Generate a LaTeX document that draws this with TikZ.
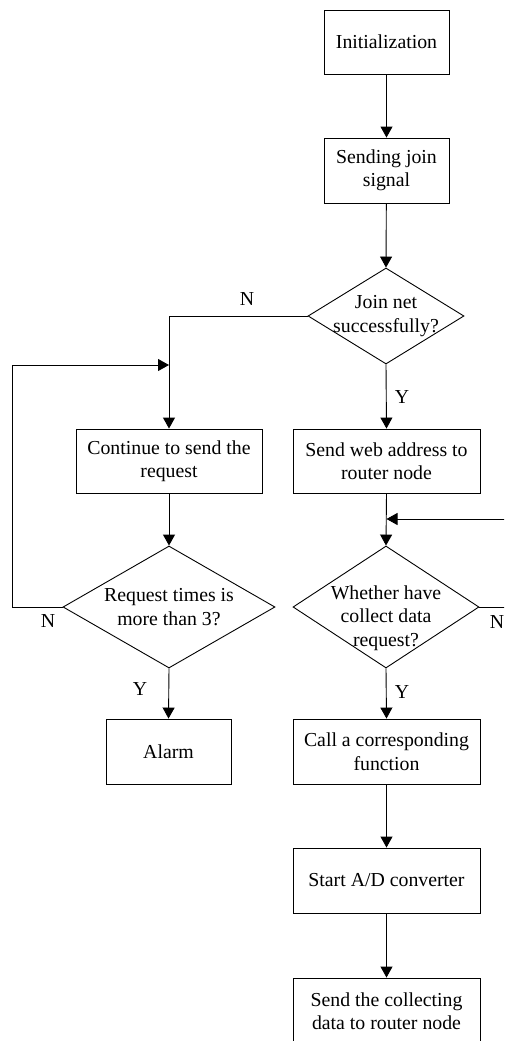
\documentclass[tikz,border=0pt]{standalone}
\usepackage{fontspec}
\setmainfont{Liberation Serif}
\usetikzlibrary{shapes.geometric,arrows.meta}

\tikzset{
  every node/.style={font=\fontsize{19.8}{23.5}\selectfont},
  procbox/.style={draw, line width=0.9pt, rectangle, align=center, inner sep=0pt},
  decision/.style={draw, line width=0.9pt, diamond, inner sep=0pt},
  dectext/.style={align=center, inner sep=0pt},
  flow/.style={line width=0.9pt, -{Triangle[length=11pt,width=12pt]}},
  plain/.style={line width=0.9pt},
  branch/.style={inner sep=0pt}
}

\begin{document}
\begin{tikzpicture}[x=1pt,y=-1pt]
  \useasboundingbox (0,0) rectangle (504,1041);
  \clip (0,0) rectangle (504,1041);

  % main column
  \node[procbox, minimum width=125pt, minimum height=64pt] (init) at (386.5,42) {Initialization};
  \node[procbox, minimum width=125pt, minimum height=65pt] (join) at (386.5,170.5) {Sending join\\signal};
  \node[decision, minimum width=156pt, minimum height=96pt] (jdec) at (386,316) {};
  \node[dectext] (jdect) at (386,316) {Join net\\successfully?};
  \node[procbox, minimum width=187pt, minimum height=64pt] (sweb) at (386.5,461) {Send web address to\\router node};
  \node[decision, minimum width=186pt, minimum height=122pt] (wdec) at (386,607) {};
  \node[dectext] (wdect) at (386,618) {Whether have\\collect data\\request?};
  \node[procbox, minimum width=187pt, minimum height=65pt] (call) at (386.5,751.5) {Call a corresponding\\function};
  \node[procbox, minimum width=187pt, minimum height=65pt] (start) at (386.5,880.5) {Start A/D converter};
  \node[procbox, minimum width=187pt, minimum height=66pt] (send) at (386.5,1011) {Send the collecting\\data to router node};

  % retry column
  \node[procbox, minimum width=186pt, minimum height=64pt] (cont) at (169,461) {Continue to send the\\request};
  \node[decision, minimum width=212pt, minimum height=122pt] (rdec) at (169,607) {};
  \node[dectext] (rdect) at (169,607) {Request times is\\more than 3?};
  \node[procbox, minimum width=125pt, minimum height=65pt] (alarm) at (168.5,751.5) {Alarm};

  % junction points of the loops
  \coordinate (mergeL) at (169,365);
  \coordinate (loopLb) at (12,607);
  \coordinate (loopLt) at (12,365);
  \coordinate (mergeR) at (386.5,519);
  \coordinate (loopRb) at (507,607);
  \coordinate (loopRt) at (507,519);

  % connectors
  \draw[flow] (init) -- (join);
  \draw[flow] (join) -- (jdec.north);
  \draw[flow] (jdec.west) -| (cont.north);
  \draw[flow] (jdec.south) -- (sweb.north);
  \draw[flow] (sweb.south) -- (wdec.north);
  \draw[flow] (wdec.south) -- (call.north);
  \draw[flow] (call) -- (start);
  \draw[flow] (start) -- (send);
  \draw[flow] (cont.south) -- (rdec.north);
  \draw[flow] (rdec.south) -- (alarm.north);
  \draw[flow] (rdec.west) -- (loopLb) -- (loopLt) -- (mergeL);
  \draw[flow] (wdec.east) -- (loopRb) -- (loopRt) -- (mergeR);

  % branch labels
  \node[branch] (nj) at (247,299) {N};
  \node[branch] (yj) at (402,397) {Y};
  \node[branch] (nr) at (48,621) {N};
  \node[branch] (yr) at (140,689) {Y};
  \node[branch] (nw) at (497,622) {N};
  \node[branch] (yw) at (402,692) {Y};
\end{tikzpicture}
\end{document}
